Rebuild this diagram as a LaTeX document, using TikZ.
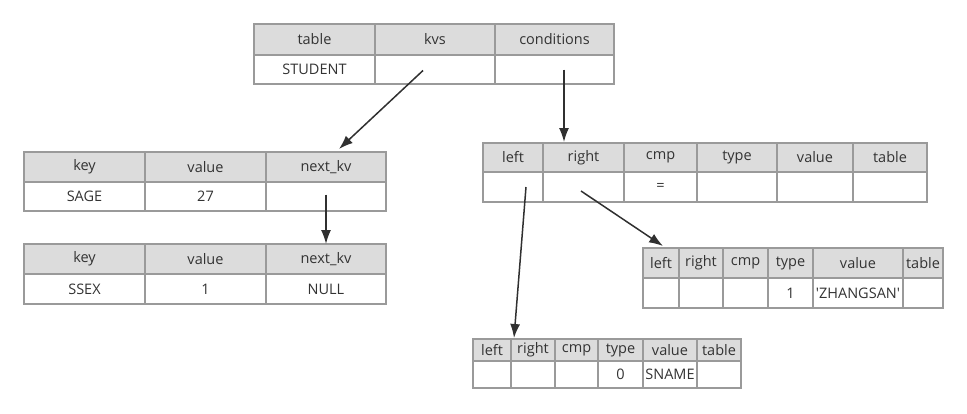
\documentclass[tikz,border=0pt]{standalone}
\usepackage{fontspec}
\newfontfamily\ofont{Open Sans}
\usetikzlibrary{arrows.meta}
\definecolor{hdr}{HTML}{DCDCDC}
\definecolor{brd}{HTML}{9A9A9A}
\definecolor{txt}{HTML}{333333}
\definecolor{arr}{HTML}{303030}
\tikzset{
  cellbase/.style={draw=brd, line width=1.5pt, inner sep=0pt, outer sep=0pt, text=txt,
    font=\ofont\fontsize{14.5}{16}\selectfont},
  hcell/.style={cellbase, fill=hdr},
  bcell/.style={cellbase, fill=white},
  link/.style={draw=arr, line width=1.5pt, -{Latex[length=14pt,width=10pt]}}
}
\newcommand\mktable[5]{%
  \foreach \ca/\cb/\ch/\cv [count=\ci] in {#5} {
    \pgfmathsetmacro\cw{\cb-\ca}
    \pgfmathsetmacro\hh{#3-#2}
    \pgfmathsetmacro\bh{#4-#3}
    \node[hcell, minimum width=\cw pt, minimum height=\hh pt] (#1-h\ci) at ({(\ca+\cb)/2},{(#2+#3)/2}) {\ch};
    \node[bcell, minimum width=\cw pt, minimum height=\bh pt] (#1-b\ci) at ({(\ca+\cb)/2},{(#3+#4)/2}) {\cv};
  }%
}
\begin{document}
\begin{tikzpicture}[x=1pt,y=-1pt]
\useasboundingbox (0,0) rectangle (967,413);
\mktable{T}{24}{55}{84}{254/375/table/STUDENT, 375/495/kvs/{}, 495/614/conditions/{}}
\mktable{KA}{152}{182}{211}{24/145/key/SAGE, 145/266/value/27, 266/386/next\_kv/{}}
\mktable{KB}{244}{274}{304}{24/145/key/SSEX, 145/266/value/1, 266/386/next\_kv/NULL}
\mktable{C}{143}{172}{202}{483/543/left/{}, 543/624/right/{}, 624/697/cmp/=, 697/777/type/{}, 777/853/value/{}, 853/927/table/{}}
\mktable{R}{248}{278}{308}{643/679/left/{}, 679/723/right/{}, 723/768/cmp/{}, 768/813/type/1, 813/903/value/'ZHANGSAN', 903/943/table/{}}
\mktable{L}{339}{361}{388}{473/511/left/{}, 511/555/right/{}, 555/598/cmp/{}, 598/643/type/0, 643/697/value/SNAME, 697/741/table/{}}
\draw[link] ([xshift=-12pt,yshift=-1pt]T-b2.center) -- ([xshift=13pt,yshift=3pt]KA-h3.north);
\draw[link] ([xshift=9.5pt,yshift=0pt]T-b3.center) -- ([xshift=-19.5pt,yshift=1pt]C-h2.north);
\draw[link] ([yshift=2pt]KA-b3.center) -- (KB-h3.north);
\draw[link] ([xshift=13pt,yshift=0pt]C-b1.center) -- ([xshift=-19pt,yshift=1pt]L-h2.north);
\draw[link] ([xshift=-2.5pt,yshift=-4pt]C-b2.center) -- ([xshift=2pt,yshift=2pt]R-h1.north);
\end{tikzpicture}
\end{document}
